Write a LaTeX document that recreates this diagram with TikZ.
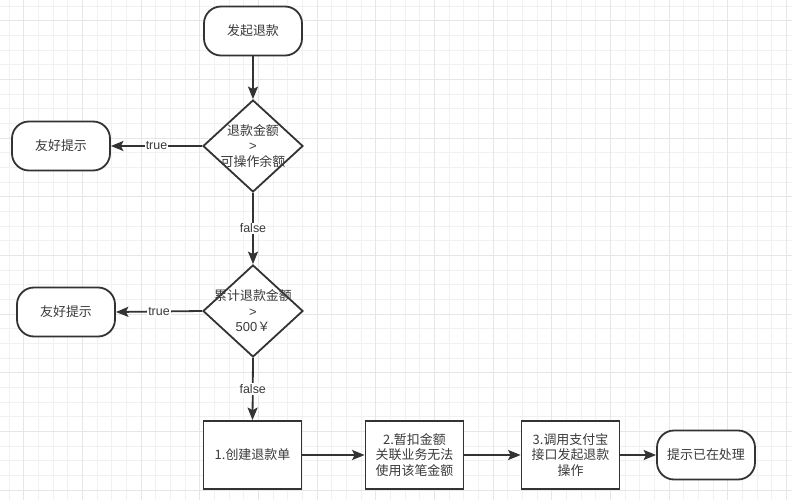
\documentclass[tikz,border=0pt]{standalone}
\usepackage{fontspec}
\setmainfont{Noto Sans CJK SC}
\newfontfamily\lat{Liberation Sans}
\usetikzlibrary{shapes.geometric,arrows.meta}
\definecolor{ink}{HTML}{333333}
\definecolor{txt}{HTML}{3A3A3A}
\definecolor{gridminor}{HTML}{F1F1F1}
\definecolor{gridmajor}{HTML}{E6E6E6}
\begin{document}
\begin{tikzpicture}[x=1bp,y=-1bp,
  term/.style={draw=ink, line width=1.8bp, rounded corners=17bp, fill=white,
    minimum width=98bp, minimum height=49bp, text=txt, inner sep=0pt,
    font=\fontsize{13}{15}\selectfont},
  procbox/.style={draw=ink, line width=1.8bp, fill=white, minimum width=98bp,
    minimum height=68bp, align=center, text=txt, inner sep=0pt,
    font=\fontsize{13}{15.5}\selectfont},
  dec/.style={diamond, draw=ink, line width=1.8bp, fill=white,
    minimum width=100bp, minimum height=92bp, inner sep=0pt},
  dectext/.style={align=center, text=txt, inner sep=0pt,
    font=\fontsize{13}{15.5}\selectfont},
  flow/.style={draw=ink, line width=1.8bp,
    -{Stealth[length=12.5bp,width=10bp,inset=2.5bp]}},
  elabel/.style={fill=white, inner sep=1.2bp, text=txt,
    font=\lat\fontsize{12.5}{14}\selectfont}
]
\useasboundingbox (0,0) rectangle (792,500);
\fill[white] (0,0) rectangle (792,500);
% grid
\foreach \i in {0,...,53}
  \draw[gridminor, line width=0.9bp] ({9+14.667*\i},0) -- ({9+14.667*\i},500);
\foreach \j in {0,...,33}
  \draw[gridminor, line width=0.9bp] (0,{6.2+14.667*\j}) -- (792,{6.2+14.667*\j});
\foreach \i in {0,...,13}
  \draw[gridmajor, line width=0.9bp] ({23.67+58.667*\i},0) -- ({23.67+58.667*\i},500);
\foreach \j in {0,...,8}
  \draw[gridmajor, line width=0.9bp] (0,{20.87+58.667*\j}) -- (792,{20.87+58.667*\j});

% nodes
\node[term] (start) at (253,31) {发起退款};
\node[dec] (d1) at (253,146) {};
\node[dectext] (d1t) at (d1) {退款金额\\{\lat >}\\可操作余额};
\node[term] (f1) at (61,146) {友好提示};
\node[dec] (d2) at (253,311) {};
\node[dectext] (d2t) at (d2) {累计退款金额\\{\lat >}\\{\lat 500}￥};
\node[term] (f2) at (66,312) {友好提示};
\node[procbox] (b1) at (252.5,455) {1.创建退款单};
\node[procbox] (b2) at (414.5,455) {2.暂扣金额\\关联业务无法\\使用该笔金额};
\node[procbox] (b3) at (570.5,455) {3.调用支付宝\\接口发起退款\\操作};
\node[term] (end) at (706,455) {提示已在处理};

% connectors
\draw[flow] (start.south) -- (d1.north);
\draw[flow] (d1.west) -- node[elabel] {true} (f1.east);
\draw[flow] (d1.south) -- node[elabel] {false} (d2.north);
\draw[flow] (d2.west) -- node[elabel] {true} (f2.east);
\draw[flow] (d2.south) -- node[elabel] {false} (b1.north);
\draw[flow] (b1.east) -- (b2.west);
\draw[flow] (b2.east) -- (b3.west);
\draw[flow] (b3.east) -- (end.west);
\end{tikzpicture}
\end{document}
